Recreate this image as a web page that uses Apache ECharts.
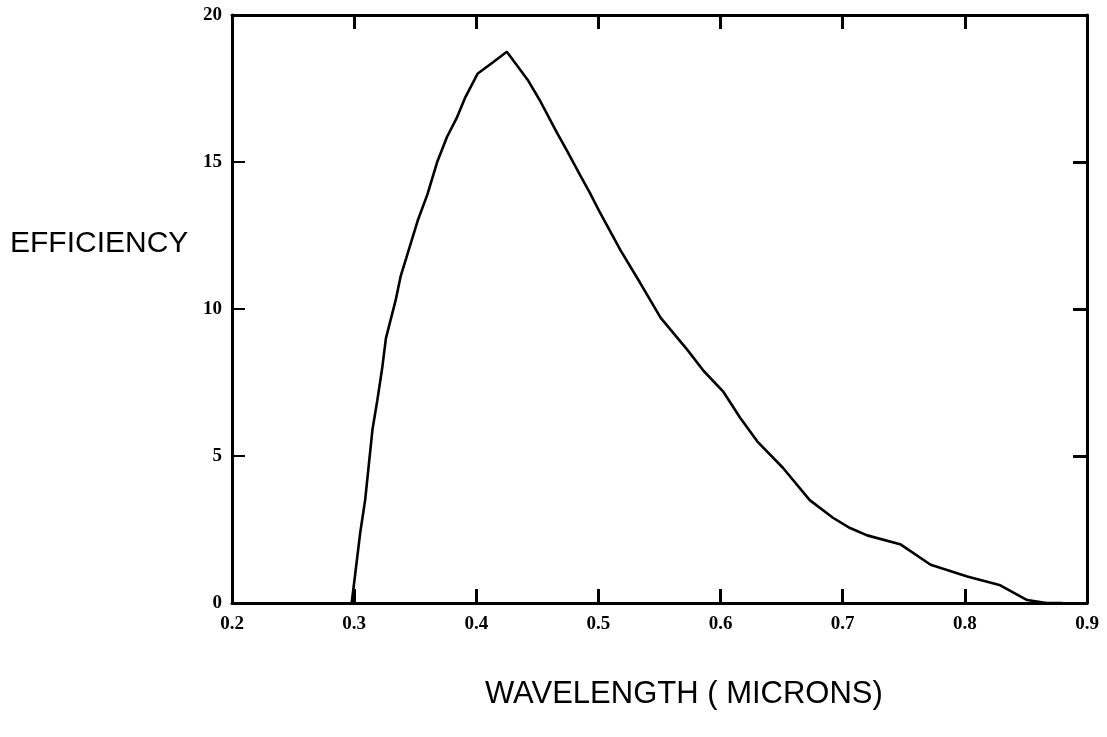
<!DOCTYPE html>
<html>
<head>
<meta charset="utf-8">
<script src="https://cdn.jsdelivr.net/npm/echarts@6/dist/echarts.min.js"></script>
<style>
html,body{margin:0;padding:0;background:#fff;}
#chart{width:1107px;height:737px;}
</style>
</head>
<body>
<div id="chart"></div>
<script>
const wavelength = [0.298,0.305,0.309,0.315,0.319,0.323,0.326,0.334,0.338,0.352,0.360,0.368,0.376,0.384,0.391,0.401,0.414,0.425,0.442,0.452,0.466,0.474,0.485,0.493,0.501,0.518,0.534,0.551,0.573,0.586,0.602,0.616,0.630,0.651,0.673,0.692,0.706,0.720,0.747,0.772,0.802,0.829,0.851,0.867,0.880];
const efficiency = [0,2.4,3.5,5.9,6.9,8.0,9.0,10.3,11.1,13.0,13.9,15.0,15.85,16.5,17.2,18.0,18.4,18.75,17.8,17.1,16.0,15.4,14.55,13.95,13.3,12.0,10.9,9.7,8.6,7.9,7.2,6.3,5.5,4.6,3.5,2.9,2.55,2.3,2.0,1.3,0.9,0.6,0.1,0,0];
const xTickLabels = ['0.2','0.3','0.4','0.5','0.6','0.7','0.8','0.9'];
const yTickLabels = ['0','5','10','15','20'];
const xTitle = 'WAVELENGTH ( MICRONS)';
const yTitle = 'EFFICIENCY';

const data = wavelength.map((x, i) => [x, efficiency[i]]);
const chart = echarts.init(document.getElementById('chart'));
const lineCol = '#000';
const labelFont = {color:'#000', fontFamily:'Liberation Serif', fontWeight:'bold', fontSize:19};
chart.setOption({
  animation:false,
  backgroundColor:'#fff',
  grid:{left:232, top:15, right:20, bottom:134},
  xAxis:[
    {type:'value', min:0.2, max:0.9, interval:0.1, position:'bottom',
     axisLine:{show:true, lineStyle:{color:lineCol, width:3}},
     axisTick:{show:true, inside:true, length:14, lineStyle:{color:lineCol, width:3}},
     axisLabel:{...labelFont, margin:12, formatter:(v)=>xTickLabels[Math.round((v-0.2)*10)] || ''},
     splitLine:{show:false}},
    {type:'value', min:0.2, max:0.9, interval:0.1, position:'top',
     axisLine:{show:true, onZero:false, lineStyle:{color:lineCol, width:3}},
     axisTick:{show:true, inside:true, length:14, lineStyle:{color:lineCol, width:3}},
     axisLabel:{show:false}, splitLine:{show:false}}
  ],
  yAxis:[
    {type:'value', min:0, max:20, interval:5, position:'left',
     axisLine:{show:true, lineStyle:{color:lineCol, width:3}},
     axisTick:{show:true, inside:true, length:13, lineStyle:{color:lineCol, width:2}},
     axisLabel:{...labelFont, margin:10, formatter:(v)=>yTickLabels[Math.round(v/5)] || ''},
     splitLine:{show:false}},
    {type:'value', min:0, max:20, interval:5, position:'right',
     axisLine:{show:true, onZero:false, lineStyle:{color:lineCol, width:3}},
     axisTick:{show:true, inside:true, length:14, lineStyle:{color:lineCol, width:3}},
     axisLabel:{show:false}, splitLine:{show:false}}
  ],
  graphic:[
    {type:'text', left:10, top:229, style:{text:yTitle, fill:'#000', font:'30px "Liberation Sans"'}},
    {type:'text', left:485, top:679, style:{text:xTitle, fill:'#000', font:'31px "Liberation Sans"'}}
  ],
  series:[{
    type:'line', xAxisIndex:0, yAxisIndex:0, data:data, symbol:'none',
    lineStyle:{color:'#000', width:2.6}, smooth:false
  }]
});
</script>
</body>
</html>
